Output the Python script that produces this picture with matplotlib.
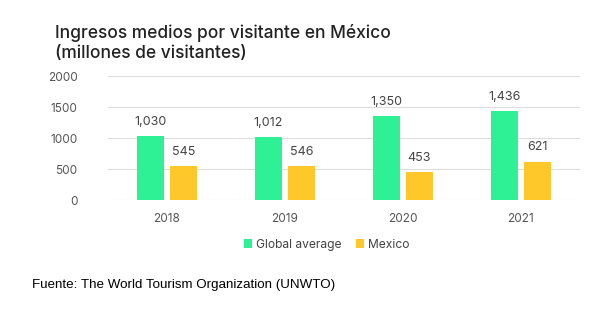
import matplotlib.pyplot as plt
import numpy as np

years = ["2018", "2019", "2020", "2021"]
global_avg = [1030, 1012, 1350, 1436]
mexico = [545, 546, 453, 621]
yticks = [0, 500, 1000, 1500, 2000]

green = "#2ef095"
yellow = "#ffc82a"
gray = "#555555"

fig = plt.figure(figsize=(6.07, 3.18), dpi=100)
ax = fig.add_axes([0.178, 0.371, 0.777, 0.39])

x = np.arange(len(years))
w = 0.23
b1 = ax.bar(x - 0.14, global_avg, w, color=green, label="Global average", zorder=3)
b2 = ax.bar(x + 0.14, mexico, w, color=yellow, label="Mexico", zorder=3)

for bars, vals in ((b1, global_avg), (b2, mexico)):
    for r, v in zip(bars, vals):
        ax.annotate("{:,}".format(v), (r.get_x() + r.get_width() / 2, v),
                    xytext=(0, 6), textcoords="offset points",
                    ha="center", va="bottom", fontsize=9, color="#444444",
                    family="Inter")

ax.set_xlim(-0.5, 3.5)
ax.set_ylim(0, 2000)
ax.set_yticks(yticks)
ax.set_xticks(x)
ax.set_xticklabels(years)
ax.grid(axis="y", color="#dddddd", linewidth=0.8, zorder=0)
for s in ax.spines.values():
    s.set_visible(False)
ax.tick_params(length=0, labelsize=8.5, colors=gray, pad=9)
ax.tick_params(axis="y", pad=22)
for lbl in ax.get_xticklabels() + ax.get_yticklabels():
    lbl.set_family("Inter")

fig.legend(loc="center", bbox_to_anchor=(0.538, 0.23), ncol=2, frameon=False,
           handlelength=0.7, handleheight=0.7, handletextpad=0.3, columnspacing=1.2,
           prop={"family": "Inter", "size": 8.7}, labelcolor="#444444")

fig.text(0.09, 0.805, "Ingresos medios por visitante en México\n(millones de visitantes)",
         fontsize=12.5, family="Inter", fontweight="medium", color="#222222",
         linespacing=1.2, va="bottom")

fig.text(0.053, 0.095, "Fuente: The World Tourism Organization (UNWTO)",
         fontsize=9.6, family="Liberation Sans", color="black")

fig.savefig("out.png", dpi=100, facecolor="white")
